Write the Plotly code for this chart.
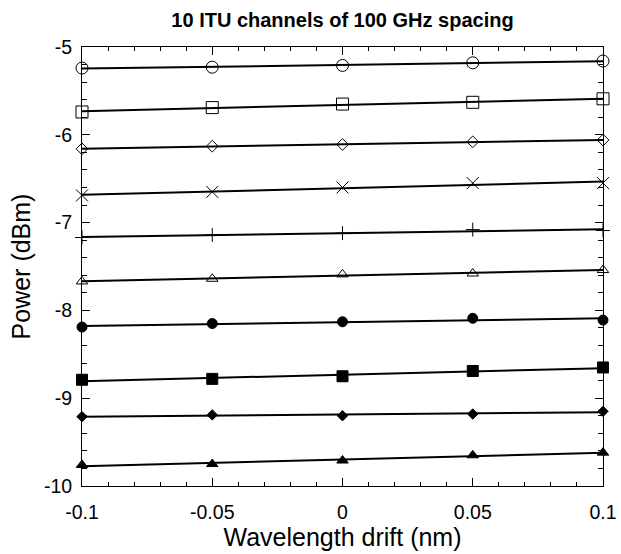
import numpy as np
import plotly.graph_objects as go

# Wavelength drift (nm) at which each channel power was measured
drift = [-0.1, -0.05, 0.0, 0.05, 0.1]

# Measured output power (dBm) of the 10 ITU channels
ch1 = [-5.24, -5.23, -5.21, -5.18, -5.16]
ch2 = [-5.74, -5.69, -5.65, -5.63, -5.59]
ch3 = [-6.16, -6.13, -6.11, -6.08, -6.06]
ch4 = [-6.69, -6.65, -6.60, -6.55, -6.55]
ch5 = [-7.17, -7.14, -7.12, -7.08, -7.09]
ch6 = [-7.67, -7.64, -7.59, -7.58, -7.54]
ch7 = [-8.19, -8.15, -8.13, -8.09, -8.11]
ch8 = [-8.79, -8.78, -8.75, -8.69, -8.65]
ch9 = [-9.21, -9.19, -9.20, -9.18, -9.15]
ch10 = [-9.76, -9.75, -9.71, -9.65, -9.62]

channels = [ch1, ch2, ch3, ch4, ch5, ch6, ch7, ch8, ch9, ch10]
symbols = ["circle-open", "square-open", "diamond-open", "x-thin-open",
           "cross-thin-open", "triangle-up-open", "circle", "square",
           "diamond", "triangle-up"]
sizes = [12, 12, 9, 12, 10, 10, 10, 11, 8, 10]

fig = go.Figure()

for vals, sym, sz in zip(channels, symbols, sizes):
    # least-squares straight-line fit through each channel
    k, b = np.polyfit(drift, vals, 1)
    xs = np.array([drift[0], drift[-1]])
    fig.add_trace(go.Scatter(
        x=xs, y=k * xs + b, mode="lines",
        line=dict(color="black", width=2),
        showlegend=False, hoverinfo="skip", cliponaxis=False))
    fig.add_trace(go.Scatter(
        x=drift, y=vals, mode="markers",
        marker=dict(symbol=sym, size=sz, color="black",
                    line=dict(color="black", width=1)),
        showlegend=False, cliponaxis=False))

font_family = "Liberation Sans, Arial, sans-serif"

fig.update_layout(
    width=621, height=554,
    margin=dict(l=82, r=18, t=47, b=68),
    paper_bgcolor="white", plot_bgcolor="white",
    font=dict(family=font_family, color="black"),
    title=dict(text="<b>10 ITU channels of 100 GHz spacing</b>",
               x=0.5, xref="paper", xanchor="center",
               y=0.963, yanchor="middle",
               font=dict(size=20, family=font_family)),
)

fig.update_xaxes(
    range=[-0.1, 0.1], tickvals=[-0.1, -0.05, 0, 0.05, 0.1],
    ticktext=["-0.1", "-0.05", "0", "0.05", "0.1"],
    ticks="inside", ticklen=8, tickwidth=1, tickcolor="black",
    minor=dict(dtick=0.01, ticks="inside", ticklen=4, tickwidth=1,
               tickcolor="black", showgrid=False),
    showline=True, linecolor="black", linewidth=1, mirror="ticks",
    showgrid=False, zeroline=False, automargin=False,
    tickfont=dict(size=19.5), ticklabelstandoff=9,
    title=dict(text="Wavelength drift (nm)", font=dict(size=25), standoff=1),
)

fig.update_yaxes(
    range=[-10, -5], tickvals=[-10, -9, -8, -7, -6, -5],
    ticktext=["-10", "-9", "-8", "-7", "-6", "-5"],
    ticks="inside", ticklen=8, tickwidth=1, tickcolor="black",
    minor=dict(dtick=0.2, ticks="inside", ticklen=5, tickwidth=1,
               tickcolor="black", showgrid=False),
    showline=True, linecolor="black", linewidth=1, mirror="ticks",
    showgrid=False, zeroline=False, automargin=False,
    tickfont=dict(size=19.5), ticklabelstandoff=5,
    title=dict(text="Power (dBm)", font=dict(size=25), standoff=6),
)

fig.write_html("out.html")
